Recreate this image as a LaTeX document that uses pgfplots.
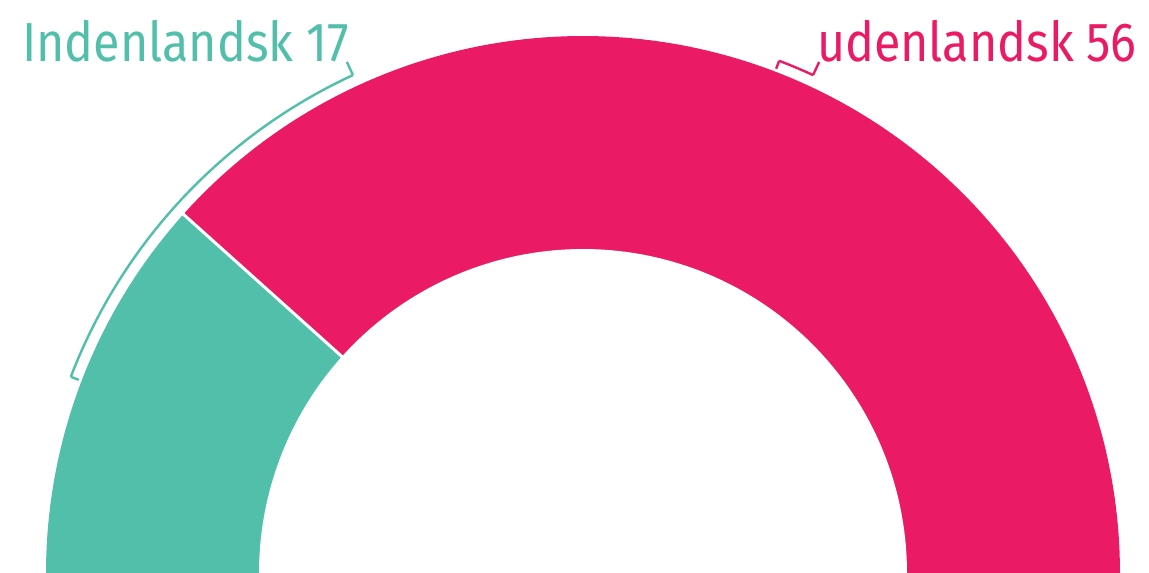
\documentclass[border=0pt]{standalone}
\usepackage{pgfplots}
\pgfplotsset{compat=1.18}
\usepackage{fontspec}
\setmainfont{Fira Sans}
\definecolor{teal1}{HTML}{52BFAB}
\definecolor{pink1}{HTML}{EA1A65}
% data
\def\valA{17}
\def\valB{56}
\begin{document}
\begin{tikzpicture}
\begin{axis}[
  width=1149pt, height=573pt, scale only axis,
  xmin=0, xmax=1149, ymin=0, ymax=573,
  hide axis, clip=false,
]
\pgfmathsetmacro{\tot}{\valA+\valB}
\pgfmathsetmacro{\ang}{180-\valA/\tot*180}
\pgfmathsetmacro{\midA}{180-\valA/\tot*90}
\pgfmathsetmacro{\midB}{\ang/2}
% pink sector
\addplot[fill=pink1, draw=none, domain=0:\ang, samples=120, variable=\t]
  ({583+537*cos(\t)},{537*sin(\t)}) -- (axis cs:583,0) -- cycle;
% teal sector
\addplot[fill=teal1, draw=none, domain=\ang:180, samples=60, variable=\t]
  ({583+537*cos(\t)},{537*sin(\t)}) -- (axis cs:583,0) -- cycle;
% inner hole
\addplot[fill=white, draw=none, domain=0:180, samples=150, variable=\t]
  ({583+324*cos(\t)},{324*sin(\t)}) -- cycle;
% divider
\addplot[white, line width=3pt, domain=318:545, samples=2, variable=\r]
  ({583+\r*cos(\ang)},{\r*sin(\ang)});
% teal bracket
\addplot[teal1, line width=2.4pt, domain=540:548.5, samples=2, variable=\r]
  ({583+\r*cos(\midA)},{\r*sin(\midA)});
\addplot[teal1, line width=2.4pt, domain=114.8:\midA, samples=80, variable=\t]
  ({583+548.5*cos(\t)},{548.5*sin(\t)});
\addplot[teal1, line width=2.4pt, domain=548.5:563, samples=2, variable=\r]
  ({583+\r*cos(114.8)},{\r*sin(114.8)});
% pink bracket
\addplot[pink1, line width=2.4pt, domain=540:548.5, samples=2, variable=\r]
  ({583+\r*cos(\midB)},{\r*sin(\midB)});
\addplot[pink1, line width=2.4pt, domain=65.2:\midB, samples=20, variable=\t]
  ({583+548.5*cos(\t)},{548.5*sin(\t)});
\addplot[pink1, line width=2.4pt, domain=548.5:563, samples=2, variable=\r]
  ({583+\r*cos(65.2)},{\r*sin(65.2)});
% labels
\node[anchor=base west, inner sep=0pt, text=teal1, font=\fontsize{55}{60}\selectfont]
  at (axis cs:22,511) {\scalebox{0.88}[1]{Indenlandsk \valA}};
\node[anchor=base east, inner sep=0pt, text=pink1, font=\fontsize{55}{60}\selectfont]
  at (axis cs:1137,511) {\scalebox{0.88}[1]{udenlandsk \valB}};
\end{axis}
\pgfresetboundingbox
\path[use as bounding box] (current axis.south west) rectangle (current axis.north east);
\end{tikzpicture}
\end{document}
